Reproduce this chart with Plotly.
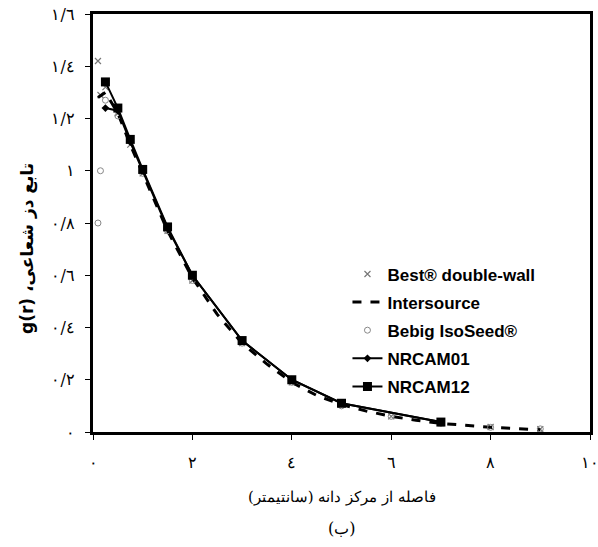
import plotly.graph_objects as go

# ---- data ----
r_nr12 = [0.25, 0.5, 0.75, 1.0, 1.5, 2.0, 3.0, 4.0, 5.0, 7.0]
g_nr12 = [1.34, 1.24, 1.12, 1.005, 0.785, 0.60, 0.35, 0.20, 0.11, 0.038]

r_nr01 = [0.25, 0.5, 0.75, 1.0, 1.5, 2.0, 3.0, 4.0, 5.0, 7.0]
g_nr01 = [1.24, 1.23, 1.11, 1.0, 0.78, 0.60, 0.35, 0.20, 0.11, 0.038]

r_inter = [0.1, 0.25, 0.5, 0.75, 1.0, 1.5, 2.0, 2.5, 3.0, 3.5, 4.0, 4.5, 5.0,
           5.5, 6.0, 6.5, 7.0, 7.5, 8.0, 8.5, 9.0]
g_inter = [1.28, 1.30, 1.22, 1.10, 0.99, 0.77, 0.59, 0.45, 0.34, 0.26, 0.19,
           0.14, 0.105, 0.08, 0.06, 0.045, 0.033, 0.025, 0.018, 0.013, 0.009]

r_best = [0.1, 0.15, 0.25, 0.5, 0.75, 1.0, 1.5, 2.0, 3.0, 4.0, 5.0, 6.0, 7.0, 8.0, 9.0]
g_best = [1.42, 1.29, 1.32, 1.22, 1.10, 0.99, 0.77, 0.58, 0.34, 0.19, 0.105, 0.06, 0.034, 0.019, 0.011]

r_bebig = [0.1, 0.15, 0.25, 0.5, 1.0, 1.5, 2.0, 3.0, 4.0, 5.0, 6.0, 7.0, 8.0, 9.0]
g_bebig = [0.80, 1.0, 1.27, 1.21, 0.99, 0.77, 0.58, 0.34, 0.19, 0.10, 0.06, 0.033, 0.018, 0.012]

x_tickvals = [0, 2, 4, 6, 8, 10]
x_ticktext = ["٠", "٢", "٤", "٦", "٨", "١٠"]
y_tickvals = [0, 0.2, 0.4, 0.6, 0.8, 1.0, 1.2, 1.4, 1.6]
y_ticktext = ["٠", "٠/٢", "٠/٤", "٠/٦", "٠/٨", "١", "١/٢", "١/٤", "١/٦"]

fig = go.Figure()
fig.add_trace(go.Scatter(x=r_best, y=g_best, mode="markers", name="Best® double-wall",
                         legendgroup="a",
                         marker=dict(symbol="x-thin-open", size=6, color="#777777",
                                     line=dict(width=1.2, color="#777777"))))
fig.add_trace(go.Scatter(x=r_inter, y=g_inter, mode="lines", name="Intersource",
                         legendgroup="b",
                         line=dict(color="black", width=3, dash="dash")))
fig.add_trace(go.Scatter(x=r_bebig, y=g_bebig, mode="markers", name="Bebig IsoSeed®",
                         legendgroup="c",
                         marker=dict(symbol="circle-open", size=6, color="#888888",
                                     line=dict(width=1))))
fig.add_trace(go.Scatter(x=r_nr01, y=g_nr01, mode="lines+markers", name="NRCAM01",
                         legendgroup="d",
                         line=dict(color="black", width=2),
                         marker=dict(symbol="diamond", size=6, color="black")))
fig.add_trace(go.Scatter(x=r_nr12, y=g_nr12, mode="lines+markers", name="NRCAM12",
                         legendgroup="e",
                         line=dict(color="black", width=2),
                         marker=dict(symbol="square", size=9, color="black")))

fig.update_layout(
    width=598, height=547,
    margin=dict(l=93, r=8, t=14, b=115, autoexpand=False),
    paper_bgcolor="white", plot_bgcolor="white",
    showlegend=True,
    legend=dict(x=0.512, y=0.42, xanchor="left", yanchor="top",
                bgcolor="rgba(0,0,0,0)", tracegroupgap=3, traceorder="grouped",
                font=dict(family="Liberation Sans", size=17, color="black", weight="bold"),
                itemwidth=30),
    font=dict(family="DejaVu Serif", color="black"),
)
fig.update_xaxes(range=[0, 10], tickvals=x_tickvals, ticktext=x_ticktext, automargin=False,
                 showgrid=False, zeroline=False, showline=True, linecolor="black",
                 linewidth=3, mirror=True, ticks="outside", ticklen=5, tickwidth=1,
                 tickcolor="black", ticklabelstandoff=9, ticklabeloverflow="allow",
                 tickfont=dict(size=16, color="black"))
fig.update_yaxes(range=[0, 1.6], tickvals=y_tickvals, ticktext=y_ticktext, automargin=False,
                 showgrid=False, zeroline=False, showline=True, linecolor="black",
                 linewidth=3, mirror=True, ticks="outside", ticklen=5, tickwidth=1,
                 tickcolor="black", ticklabelstandoff=7, ticklabeloverflow="allow",
                 tickfont=dict(size=16, color="black"))

fig.add_annotation(xref="paper", yref="paper", x=0.5, y=-0.155, yanchor="middle",
                   showarrow=False,
                   text="\u202Bفاصله از مرکز دانه (سانتیمتر)\u202C",
                   font=dict(size=15, color="black", family="DejaVu Serif"))
fig.add_annotation(xref="paper", yref="paper", x=0.5, y=-0.23, yanchor="middle",
                   showarrow=False, text="\u202B(ب)\u202C",
                   font=dict(size=16, color="black", family="DejaVu Serif"))
fig.add_annotation(xref="paper", yref="paper", x=-0.133, y=0.44, xanchor="center",
                   yanchor="middle", showarrow=False, textangle=-90,
                   text="<b>g(r) \u060C\u202Bتابع دز شعاعی\u202C</b>",
                   font=dict(size=17, color="black", family="DejaVu Sans"))

fig.write_html("out.html", config={"displayModeBar": False},
               post_script="document.body.style.margin='0px';document.body.style.overflow='hidden';")
